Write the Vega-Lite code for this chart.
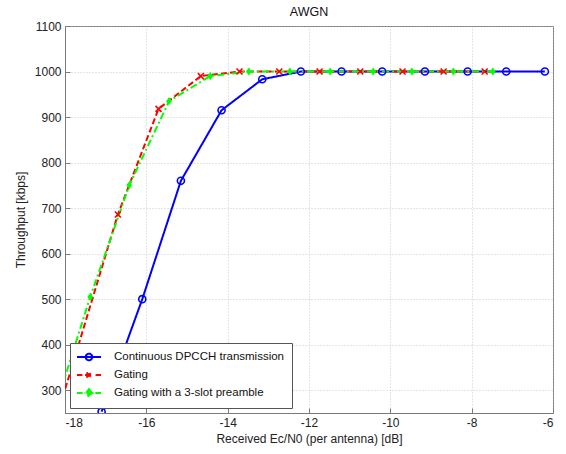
{
  "$schema": "https://vega.github.io/schema/vega-lite/v6.json",
  "autosize": "none",
  "width": 488,
  "height": 387,
  "padding": {"left": 65, "top": 26, "right": 13, "bottom": 41},
  "background": "white",
  "title": {"text": "AWGN", "fontSize": 12.5, "fontWeight": "normal", "font": "Liberation Sans", "color": "#111", "offset": 2, "anchor": "middle"},
  "config": {
    "view": {"stroke": "#7a7a7a", "strokeWidth": 1},
    "font": "Liberation Sans",
    "axis": {
      "labelFont": "Liberation Sans", "labelFontSize": 12, "labelColor": "#222",
      "titleFont": "Liberation Sans", "titleFontSize": 12, "titleFontWeight": "normal", "titleColor": "#222",
      "gridColor": "#bdbdbd", "gridDash": [1, 2], "gridWidth": 0.8,
      "domainColor": "#7a7a7a", "tickColor": "#7a7a7a", "tickSize": -5, "labelPadding": 9
    }
  },
  "data": {"values": [
    {"series": "Continuous DPCCH transmission", "x": -17.1, "y": 253},
    {"series": "Continuous DPCCH transmission", "x": -16.1, "y": 500},
    {"series": "Continuous DPCCH transmission", "x": -15.15, "y": 760},
    {"series": "Continuous DPCCH transmission", "x": -14.15, "y": 915},
    {"series": "Continuous DPCCH transmission", "x": -13.15, "y": 983},
    {"series": "Continuous DPCCH transmission", "x": -12.2, "y": 1000},
    {"series": "Continuous DPCCH transmission", "x": -11.2, "y": 1000},
    {"series": "Continuous DPCCH transmission", "x": -10.2, "y": 1000},
    {"series": "Continuous DPCCH transmission", "x": -9.15, "y": 1000},
    {"series": "Continuous DPCCH transmission", "x": -8.1, "y": 1000},
    {"series": "Continuous DPCCH transmission", "x": -7.15, "y": 1000},
    {"series": "Continuous DPCCH transmission", "x": -6.2, "y": 1000},
    {"series": "Gating", "x": -18.7, "y": 95},
    {"series": "Gating", "x": -17.69, "y": 393},
    {"series": "Gating", "x": -16.7, "y": 686},
    {"series": "Gating", "x": -15.7, "y": 918},
    {"series": "Gating", "x": -14.66, "y": 990},
    {"series": "Gating", "x": -13.71, "y": 1000},
    {"series": "Gating", "x": -12.73, "y": 1000},
    {"series": "Gating", "x": -11.74, "y": 1000},
    {"series": "Gating", "x": -10.74, "y": 1000},
    {"series": "Gating", "x": -9.7, "y": 1000},
    {"series": "Gating", "x": -8.69, "y": 1000},
    {"series": "Gating", "x": -7.68, "y": 1000},
    {"series": "Gating with a 3-slot preamble", "x": -18.4, "y": 215},
    {"series": "Gating with a 3-slot preamble", "x": -17.38, "y": 505},
    {"series": "Gating with a 3-slot preamble", "x": -16.42, "y": 750},
    {"series": "Gating with a 3-slot preamble", "x": -15.44, "y": 935},
    {"series": "Gating with a 3-slot preamble", "x": -14.43, "y": 990},
    {"series": "Gating with a 3-slot preamble", "x": -13.48, "y": 1000},
    {"series": "Gating with a 3-slot preamble", "x": -12.47, "y": 1000},
    {"series": "Gating with a 3-slot preamble", "x": -11.48, "y": 1000},
    {"series": "Gating with a 3-slot preamble", "x": -10.42, "y": 1000},
    {"series": "Gating with a 3-slot preamble", "x": -9.47, "y": 1000},
    {"series": "Gating with a 3-slot preamble", "x": -8.45, "y": 1000},
    {"series": "Gating with a 3-slot preamble", "x": -7.48, "y": 1000}
  ]},
  "encoding": {
    "x": {"field": "x", "type": "quantitative",
      "scale": {"domain": [-18, -6], "nice": false, "zero": false},
      "axis": {"values": [-18, -16, -14, -12, -10, -8, -6], "labelExpr": "'' + datum.value", "title": "Received Ec/N0 (per antenna) [dB]", "titlePadding": 5}},
    "y": {"field": "y", "type": "quantitative",
      "scale": {"domain": [250, 1100], "nice": false, "zero": false},
      "axis": {"values": [300, 400, 500, 600, 700, 800, 900, 1000, 1100], "format": "d", "title": "Throughput [kbps]", "titlePadding": 7}}
  },
  "layer": [
    {
      "mark": {"type": "line", "strokeWidth": 2, "clip": true},
      "encoding": {
        "color": {"field": "series", "type": "nominal",
          "scale": {"domain": ["Continuous DPCCH transmission", "Gating", "Gating with a 3-slot preamble"], "range": ["#0000ff", "#ff0000", "#00ff00"]},
          "legend": {
            "title": null, "orient": "bottom-left", "offset": 5,
            "fillColor": "white", "strokeColor": "#555", "padding": 7,
            "labelFont": "Liberation Sans", "labelFontSize": 11.5, "labelColor": "#111", "labelLimit": 400,
            "symbolSize": 144, "symbolStrokeWidth": 2, "symbolOffset": 5, "labelOffset": 18, "rowPadding": 3
          }},
        "strokeDash": {"field": "series", "type": "nominal",
          "scale": {"domain": ["Continuous DPCCH transmission", "Gating", "Gating with a 3-slot preamble"], "range": [[1, 0], [6, 3], [7, 3, 2, 3]]},
          "legend": null}
      }
    },
    {
      "transform": [{"filter": "datum.series === 'Continuous DPCCH transmission'"}],
      "mark": {"type": "point", "shape": "circle", "filled": false, "color": "#0000ff", "strokeWidth": 1.6, "size": 50, "opacity": 1, "clip": true}
    },
    {
      "transform": [{"filter": "datum.series === 'Gating'"}],
      "mark": {"type": "point", "shape": "M-0.85,-0.85L0.85,0.85M-0.85,0.85L0.85,-0.85", "filled": false, "color": "#ff0000", "strokeWidth": 1.6, "size": 50, "opacity": 1, "clip": true}
    },
    {
      "transform": [{"filter": "datum.series === 'Gating with a 3-slot preamble'"}],
      "mark": {"type": "point", "shape": "M0,-1.15L0.8,0L0,1.15L-0.8,0Z", "filled": true, "color": "#00ff00", "strokeWidth": 1, "size": 50, "opacity": 1, "clip": true}
    },
    {
      "transform": [{"filter": "datum.x < -100"}],
      "mark": {"type": "point", "filled": false, "strokeWidth": 2, "opacity": 1},
      "encoding": {
        "color": {"field": "series", "type": "nominal",
          "legend": {
            "title": null, "orient": "bottom-left", "offset": 5,
            "fillColor": "white", "strokeColor": "#555", "padding": 7,
            "labelFont": "Liberation Sans", "labelFontSize": 11.5, "labelColor": "#111", "labelLimit": 400,
            "symbolSize": 144, "symbolStrokeWidth": 2, "symbolOffset": 5, "labelOffset": 18, "rowPadding": 3
          }},
        "shape": {"field": "series", "type": "nominal",
          "scale": {"domain": ["Continuous DPCCH transmission", "Gating", "Gating with a 3-slot preamble"],
            "range": [
              "M-2,0H2M0.55,0A0.55,0.55 0 1,1 -0.55,0A0.55,0.55 0 1,1 0.55,0",
              "M-2,0H-1.1M-0.65,0H0.65M1.1,0H2M-0.42,-0.42L0.42,0.42M-0.42,0.42L0.42,-0.42",
              "M-2,0H-1.05M-0.75,0H-0.6M0.6,0H0.75M1.05,0H2M0,-0.65L0.48,0L0,0.65L-0.48,0Z"
            ]},
          "legend": null},
        "fill": {"field": "series", "type": "nominal",
          "scale": {"domain": ["Continuous DPCCH transmission", "Gating", "Gating with a 3-slot preamble"], "range": ["transparent", "transparent", "#00ff00"]},
          "legend": {
            "title": null, "orient": "bottom-left", "offset": 5,
            "fillColor": "white", "strokeColor": "#555", "padding": 7,
            "labelFont": "Liberation Sans", "labelFontSize": 11.5, "labelColor": "#111", "labelLimit": 400,
            "symbolSize": 144, "symbolStrokeWidth": 2, "symbolOffset": 5, "labelOffset": 18, "rowPadding": 3
          }}
      }
    }
  ]
}
